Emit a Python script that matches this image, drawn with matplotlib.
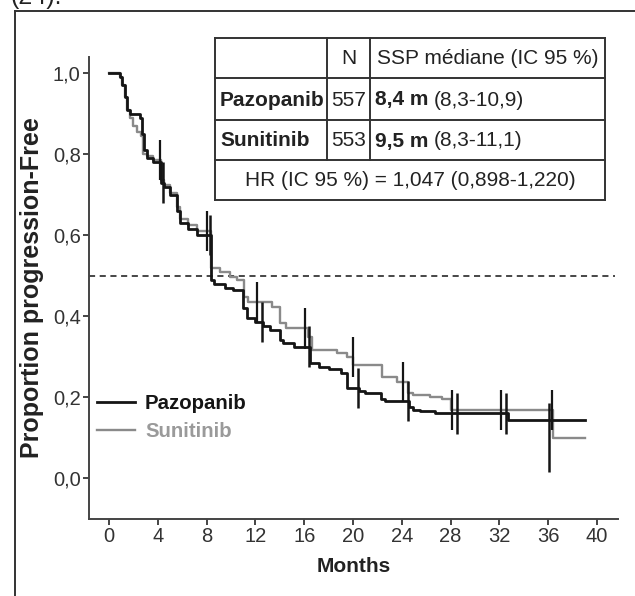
import numpy as np
import matplotlib
matplotlib.use("Agg")
import matplotlib.pyplot as plt

# ---- data -------------------------------------------------------------
months_ticks = [0, 4, 8, 12, 16, 20, 24, 28, 32, 36, 40]
prop_ticks = [0.0, 0.2, 0.4, 0.6, 0.8, 1.0]
prop_labels = ["0,0", "0,2", "0,4", "0,6", "0,8", "1,0"]

paz_t = [0, 0.9, 1.1, 1.3, 1.5, 1.7, 2.5, 2.7, 2.9, 3.1, 3.6, 4.3, 4.5, 5.0, 5.6,
         5.8, 6.5, 7.2, 8.4, 8.6, 9.5, 10.2, 11.0, 11.3, 12.0, 12.6, 13.2, 14.0,
         14.3, 15.2, 16.5, 17.2, 18.0, 19.0, 19.5, 20.5, 21.0, 22.3, 22.6, 24.6,
         24.9, 25.5, 26.7, 32.7, 39.0]
paz_s = [1.0, 0.99, 0.97, 0.94, 0.91, 0.90, 0.89, 0.85, 0.81, 0.79, 0.78, 0.73,
         0.72, 0.70, 0.66, 0.63, 0.615, 0.60, 0.49, 0.48, 0.47, 0.465, 0.42, 0.395,
         0.385, 0.375, 0.365, 0.34, 0.333, 0.325, 0.284, 0.275, 0.27, 0.26, 0.222,
         0.215, 0.21, 0.195, 0.19, 0.175, 0.168, 0.165, 0.16, 0.143, 0.143]
paz_censor = [4.4, 8.3, 12.5, 16.4, 20.4, 24.5, 28.5, 32.5, 36.1]

sun_t = [0, 0.9, 1.1, 1.3, 1.5, 1.7, 2.0, 2.3, 2.6, 2.8, 3.1, 3.6, 4.3, 4.5, 5.0,
         5.6, 5.8, 6.5, 7.2, 8.4, 9.1, 9.9, 10.5, 11.1, 11.4, 13.4, 14.0, 14.5,
         16.3, 16.6, 18.7, 19.5, 20.0, 22.4, 23.6, 24.5, 24.9, 26.3, 27.3, 28.0,
         36.4, 39.0]
sun_s = [1.0, 0.99, 0.97, 0.94, 0.91, 0.89, 0.87, 0.855, 0.845, 0.80, 0.795, 0.785,
         0.735, 0.725, 0.705, 0.67, 0.64, 0.625, 0.61, 0.52, 0.51, 0.496, 0.489,
         0.447, 0.435, 0.422, 0.383, 0.37, 0.348, 0.316, 0.309, 0.299, 0.279, 0.25,
         0.237, 0.21, 0.205, 0.20, 0.195, 0.168, 0.10, 0.10]
sun_censor = [4.2, 8.0, 12.1, 16.1, 20.0, 24.1, 28.1, 32.1, 36.3]

arms = ["Pazopanib", "Sunitinib"]
arm_n = ["557", "553"]
arm_median = ["8,4 m", "9,5 m"]
arm_ci = ["(8,3-10,9)", "(8,3-11,1)"]
hr_text = "HR (IC 95 %) = 1,047 (0,898-1,220)"

plt.rcParams["font.family"] = ["Liberation Sans", "DejaVu Sans"]

W, H = 635, 596
fig = plt.figure(figsize=(W / 100, H / 100), dpi=100)
ax = fig.add_axes([89 / W, (H - 519) / H, (618 - 89) / W, (519 - 57) / H])

BLACK = "#151515"
GRAY = "#8a8a8a"


def value_at(t, s, x):
    i = np.searchsorted(t, x, side="right") - 1
    return s[i]


ax.step(sun_t, sun_s, where="post", color=GRAY, lw=1.7, zorder=3)
ax.step(paz_t, paz_s, where="post", color=BLACK, lw=2.0, zorder=4)

# censoring marks
half = 0.05
for c in sun_censor:
    v = value_at(sun_t, sun_s, c - 0.05)
    ax.vlines(c, v - half, v + half, color=BLACK, lw=1.6, zorder=5)
for c in paz_censor:
    v = value_at(paz_t, paz_s, c)
    lo, hi = v - half, v + half
    if c > 36:
        lo, hi = 0.015, 0.185
    ax.vlines(c, lo, hi, color=BLACK, lw=1.8, zorder=5)

ax.axhline(0.5, xmin=0, xmax=0.995, color=BLACK, lw=1.1, dashes=(4, 3), zorder=2)

ax.set_xlim(-1.64, 41.72)
ax.set_ylim(-0.101, 1.04)
ax.set_xticks(months_ticks)
ax.set_xticklabels([str(m) for m in months_ticks])
ax.set_yticks(prop_ticks)
ax.set_yticklabels(prop_labels)
for side in ("top", "right"):
    ax.spines[side].set_visible(False)
for side in ("left", "bottom"):
    ax.spines[side].set_color("#444444")
    ax.spines[side].set_linewidth(1.4)
ax.tick_params(axis="both", direction="out", length=4, width=1.4, color="#444444",
               labelsize=14.5, labelcolor="#333333", pad=2)
ax.set_xlabel("Months", fontsize=15, fontweight="bold", color="#222222", labelpad=8)
ax.set_ylabel("Proportion progression-Free", fontsize=18, fontweight="bold",
              color="#222222", labelpad=6)

leg = ax.legend(arms, loc="upper left", bbox_to_anchor=(0.015, 0.27), frameon=False,
                handlelength=1.85, handletextpad=0.5, labelspacing=0.42,
                borderaxespad=0, borderpad=0, labelcolor=[BLACK, "#9a9a9a"],
                prop={"weight": "bold", "size": 14.7})
for line, col, lw in zip(leg.get_lines(), [BLACK, GRAY], [2.0, 1.7]):
    line.set_color(col)
    line.set_linewidth(lw)

# ---- overlay in pixel units: page frame and summary table --------------
ov = fig.add_axes([0, 0, 1, 1], zorder=10)
ov.set_xlim(0, W)
ov.set_ylim(H, 0)
ov.axis("off")
ov.patch.set_alpha(0)

ov.plot([15, 15], [11, H], color="#333333", lw=1.4)
ov.plot([15, W], [11, 11], color="#333333", lw=1.4)
ov.text(10, 4, "(24).", fontsize=18, color="#222222", va="baseline", ha="left")

tx0, tx1 = 215, 605
rows = [38, 78, 120, 160, 200]
c1, c2 = 327, 370
ov.fill_between([tx0, tx1], rows[0], rows[-1], color="white", zorder=1)
tcol = "#333333"
tlw = 1.4
for y in rows:
    ov.plot([tx0, tx1], [y, y], color=tcol, lw=tlw, zorder=2)
ov.plot([tx0, tx0], [rows[0], rows[-1]], color=tcol, lw=tlw, zorder=2)
ov.plot([tx1, tx1], [rows[0], rows[-1]], color=tcol, lw=tlw, zorder=2)
for x in (c1, c2):
    ov.plot([x, x], [rows[0], rows[3]], color=tcol, lw=tlw, zorder=2)

fs = 15
tc = "#222222"
ymid = [(rows[i] + rows[i + 1]) / 2 + 1 for i in range(4)]
ov.text((c1 + c2) / 2, ymid[0], "N", fontsize=fs, ha="center", va="center", color=tc)
ov.text(c2 + 7, ymid[0], "SSP médiane (IC 95 %)", fontsize=fs, ha="left",
        va="center", color=tc)
renderer = fig.canvas.get_renderer()
for i in range(2):
    y = ymid[i + 1]
    ov.text(tx0 + 5, y, arms[i], fontsize=fs, fontweight="bold", ha="left",
            va="center", color=tc)
    ov.text((c1 + c2) / 2, y, arm_n[i], fontsize=fs, ha="center", va="center",
            color=tc)
    t = ov.text(c2 + 5, y, arm_median[i], fontsize=fs, fontweight="bold",
                ha="left", va="center", color=tc)
    bb = t.get_window_extent(renderer)
    ov.text(bb.x1 + 5, y, arm_ci[i], fontsize=fs, ha="left", va="center", color=tc)
ov.text((tx0 + tx1) / 2, ymid[3], hr_text, fontsize=fs, ha="center", va="center",
        color=tc)

fig.savefig("out.png", dpi=100)
